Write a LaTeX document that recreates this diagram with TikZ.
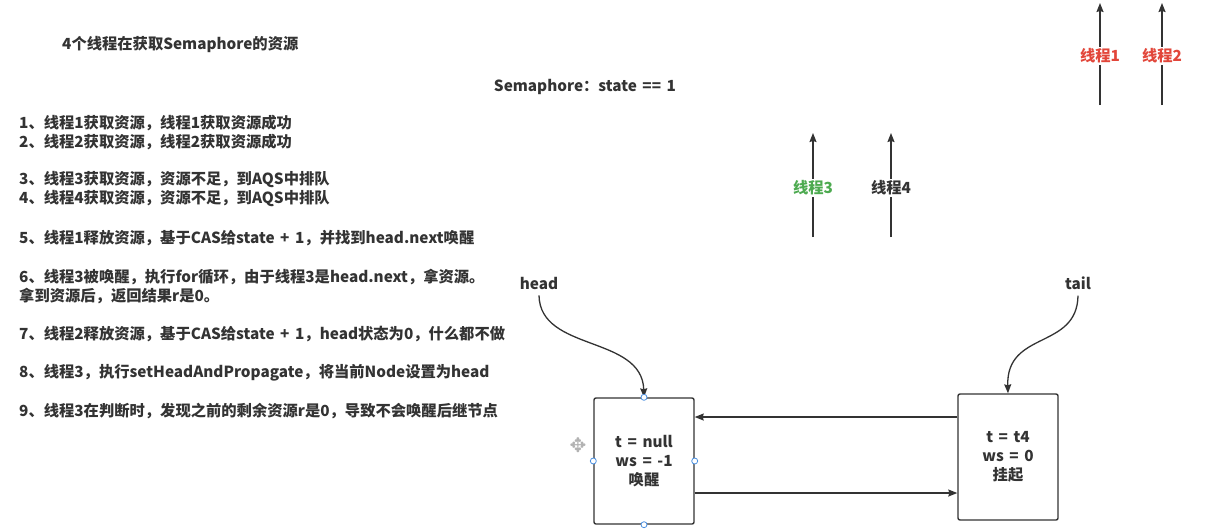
\documentclass[tikz,border=0pt]{standalone}
\usepackage{fontspec}
\setmainfont[WordSpace=1.6]{Noto Sans CJK SC}
\newfontfamily\symfnt{DejaVu Sans}
\usetikzlibrary{arrows.meta}
\definecolor{ink}{HTML}{333333}
\definecolor{redtxt}{HTML}{E2463A}
\definecolor{greentxt}{HTML}{4DAA50}
\definecolor{handleblue}{HTML}{4A8FE0}
\tikzset{
  txt/.style={anchor=west, inner sep=0pt, font=\fontsize{15.3}{18}\selectfont\bfseries, text=ink},
  ctxt/.style={inner sep=0pt, font=\fontsize{15.3}{18}\selectfont\bfseries, text=ink},
  qbox/.style={draw=ink, line width=1.4pt, rounded corners=2pt, minimum width=100pt, minimum height=126pt,
               align=center, font=\fontsize{15.3}{19}\selectfont\bfseries, text=ink},
  arr/.style={draw=ink, line width=1.3pt, -{Stealth[length=9pt,width=7pt,inset=1pt]}},
  lbl/.style={fill=white, inner sep=2pt, font=\fontsize{15.3}{18}\selectfont\bfseries},
  handle/.style={draw=handleblue, fill=white, line width=0.8pt}
}
\begin{document}
\begin{tikzpicture}[x=1pt,y=-1pt]
\useasboundingbox[fill=white] (0,0) rectangle (1220,531);

% left text
\node[txt] (title) at (62,45) {4个线程在获取Semaphore的资源};
\node[ctxt] (sem) at (585,87) {Semaphore：state == 1};
\node[txt] (l1) at (19,123) {1、线程1获取资源，线程1获取资源成功};
\node[txt] (l2) at (19,142) {2、线程2获取资源，线程2获取资源成功};
\node[txt] (l3) at (19,180) {3、线程3获取资源，资源不足，到AQS中排队};
\node[txt] (l4) at (19,199) {4、线程4获取资源，资源不足，到AQS中排队};
\node[txt] (l5) at (19,238) {5、线程1释放资源，基于CAS给state + 1，并找到head.next唤醒};
\node[txt] (l6) at (19,277) {6、线程3被唤醒，执行for循环，由于线程3是head.next，拿资源。};
\node[txt] (l6b) at (19,296) {拿到资源后，返回结果r是0。};
\node[txt] (l7) at (19,334) {7、线程2释放资源，基于CAS给state + 1，head状态为0，什么都不做};
\node[txt] (l8) at (19,373) {8、线程3，执行setHeadAndPropagate，将当前Node设置为head};
\node[txt] (l9) at (19,411) {9、线程3在判断时，发现之前的剩余资源r是0，导致不会唤醒后继节点};

% thread arrows
\coordinate (t1b) at (1100,105); \coordinate (t1t) at (1100,3);
\coordinate (t2b) at (1162,105); \coordinate (t2t) at (1162,3);
\coordinate (t3b) at (813,237);  \coordinate (t3t) at (813,133);
\coordinate (t4b) at (891,237);  \coordinate (t4t) at (891,133);
\draw[arr] (t1b) -- node[lbl, text=redtxt, pos=0.48] (th1) {线程1} (t1t);
\draw[arr] (t2b) -- node[lbl, text=redtxt, pos=0.48] (th2) {线程2} (t2t);
\draw[arr] (t3b) -- node[lbl, text=greentxt, pos=0.47] (th3) {线程3} (t3t);
\draw[arr] (t4b) -- node[lbl, text=ink, pos=0.47] (th4) {线程4} (t4t);

% queue nodes
\node[qbox] (lb) at (644,461) {t = null\\ws = -1\\唤醒};
\node[qbox] (rb) at (1008,457) {t = t4\\ws = 0\\挂起};

\draw[arr] (rb.west |- 0,417) -- (lb.east |- 0,417);
\draw[arr] (lb.east |- 0,493) -- (rb.west |- 0,493);

% head / tail
\node[ctxt] (head) at (539,283) {head};
\node[ctxt] (tail) at (1078,283) {tail};
\draw[arr] ([yshift=-6pt]head.south) .. controls (540,352) and (642,335) .. (lb.north);
\draw[arr] ([yshift=-6pt]tail.south) .. controls (1077,350) and (1006,330) .. (rb.north);

% selection handles
\foreach \a in {north,south,east,west} \draw[handle] (lb.\a) circle (3pt);
\node[inner sep=0pt, text=gray!60, font=\symfnt\fontsize{20}{20}\selectfont] (mv) at (578,445) {✥};
\end{tikzpicture}
\end{document}
